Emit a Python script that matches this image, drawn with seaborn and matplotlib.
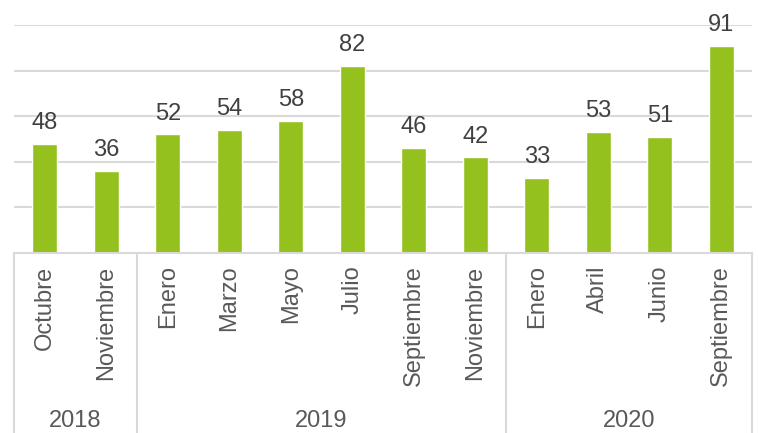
import matplotlib
matplotlib.use("Agg")
import matplotlib.pyplot as plt
import matplotlib.transforms as mtransforms
import seaborn as sns
import pandas as pd

years = ["2018", "2019", "2020"]
months = ["Octubre", "Noviembre",
          "Enero", "Marzo", "Mayo", "Julio", "Septiembre", "Noviembre",
          "Enero", "Abril", "Junio", "Septiembre"]
month_years = ["2018", "2018",
               "2019", "2019", "2019", "2019", "2019", "2019",
               "2020", "2020", "2020", "2020"]
values = [48, 36, 52, 54, 58, 82, 46, 42, 33, 53, 51, 91]

df = pd.DataFrame({
    "key": [f"{y} {m}" for y, m in zip(month_years, months)],
    "month": months,
    "year": month_years,
    "value": values,
})

sns.set_theme(style="white")
plt.rcParams["font.family"] = ["Liberation Sans", "DejaVu Sans"]

fig = plt.figure(figsize=(7.58, 4.33), dpi=100)
ax = fig.add_axes([14 / 758, 1 - 253 / 433, (752 - 14) / 758, (253 - 25) / 433])

sns.barplot(data=df, x="key", y="value", color="#95C11F", width=0.41,
            saturation=1, ax=ax, order=list(df["key"]))

ax.set_ylim(0, 100)
ax.set_xlim(-0.5, len(values) - 0.5)
ax.set_yticks([20, 40, 60, 80, 100])
ax.yaxis.grid(True, color="#D9D9D9", linewidth=1.5)
ax.set_axisbelow(True)
ax.tick_params(axis="y", left=False, labelleft=False)
for s in ["top", "right", "left"]:
    ax.spines[s].set_visible(False)
ax.spines["bottom"].set_color("#D9D9D9")
ax.spines["bottom"].set_linewidth(1.5)

ax.set_xticks(range(len(months)))
ax.set_xticklabels(months, rotation=90, fontsize=17, color="#595959")
ax.tick_params(axis="x", length=0, pad=9)
ax.set_xlabel("")
ax.set_ylabel("")

for c in ax.containers:
    ax.bar_label(c, labels=[str(v) for v in values], padding=7,
                 fontsize=17, color="#404040")

# group separators and year labels
trans = mtransforms.blended_transform_factory(ax.transData, ax.transAxes)
bottom = -(433 - 253) / 228
bounds = []
start = 0
for i in range(1, len(month_years) + 1):
    if i == len(month_years) or month_years[i] != month_years[start]:
        bounds.append((start, i - 1))
        start = i
edges = sorted(set([b[0] - 0.5 for b in bounds] + [b[1] + 0.5 for b in bounds]))
for e in edges:
    ax.plot([e, e], [0, bottom], transform=trans, color="#D9D9D9",
            linewidth=1.5, clip_on=False)
for (s, e), y in zip(bounds, years):
    ax.text((s + e) / 2, -0.737, y, transform=trans, ha="center", va="center",
            fontsize=17, color="#595959")

fig.savefig("out.png", dpi=100)
